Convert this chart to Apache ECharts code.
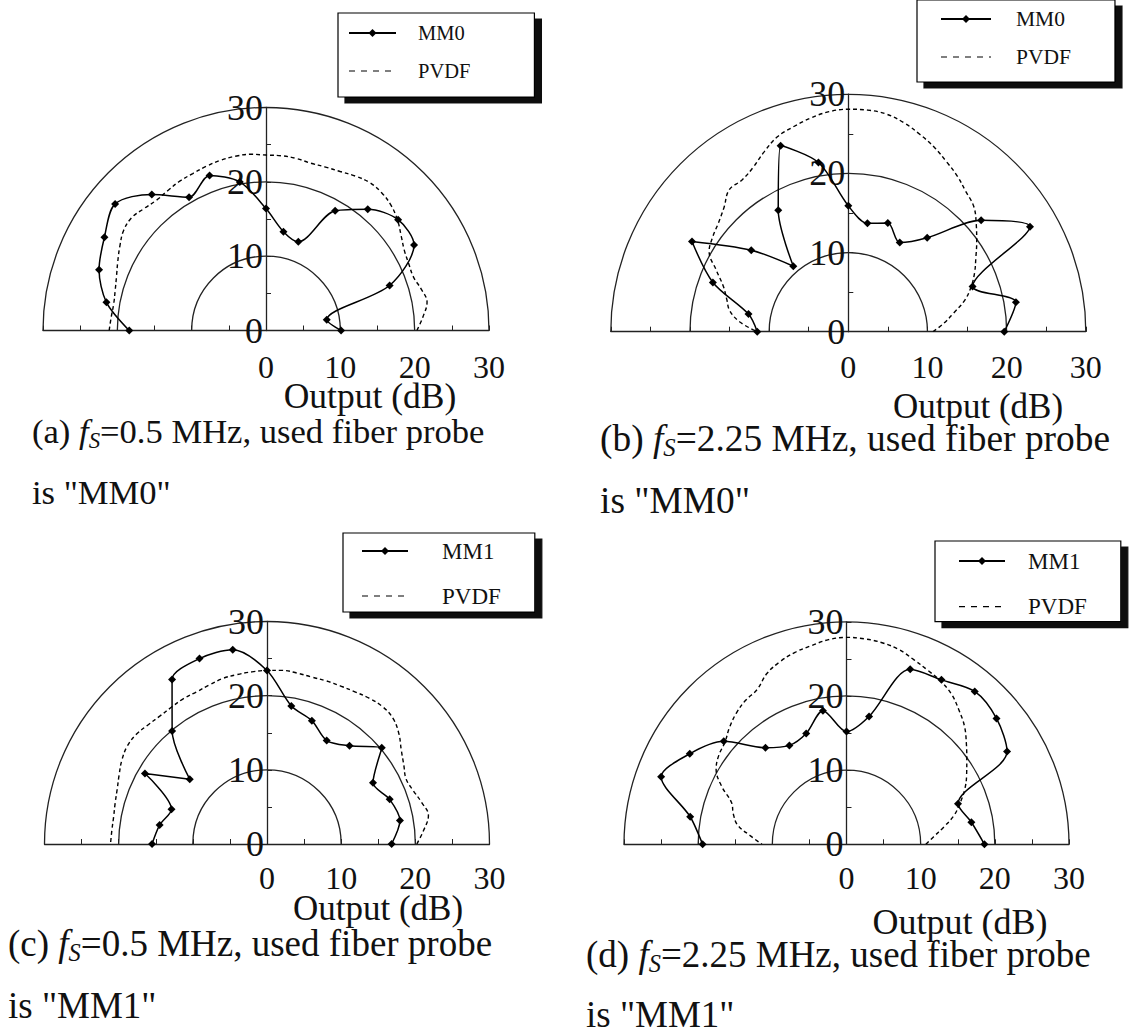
<!DOCTYPE html>
<html>
<head>
<meta charset="utf-8">
<script src="https://cdn.jsdelivr.net/npm/echarts@6/dist/echarts.min.js"></script>
<style>
html,body{margin:0;padding:0;background:#fff;}
#chart{width:1133px;height:1035px;}
</style>
</head>
<body>
<div id="chart"></div>
<script>
// ---------------- data ----------------
const markerAngles = [0,10,20,30,40,50,60,70,80,90,100,110,120,130,140,150,160,170,180];
const pvdfAngles = [0,5,10,15,20,25,30,35,40,45,50,55,60,65,70,75,80,85,90,95,100,105,110,115,120,125,130,135,140,145,150,155,160,165,170,175,180];

// (a) fs = 0.5 MHz, probe MM0
const mm0_a  = [10.1, 8.3, 17.7, 23.0, 23.2, 21.3, 18.6, 12.7, 13.5, 16.4, 20.3, 22.2, 20.7, 23.9, 26.5, 25.1, 23.9, 21.8, 18.4];
const pvdf_a = [20.3, 21.2, 22.0, 21.6, 21.1, 21.2, 21.5, 22.2, 23.1, 23.8, 24.2, 24.3, 24.0, 23.6, 23.4, 23.3, 23.5, 23.6, 23.6, 23.8, 23.8, 23.7, 23.5, 23.3, 23.2, 23.0, 22.9, 23.2, 23.6, 23.4, 22.7, 22.0, 21.4, 21.0, 20.8, 20.9, 21.1];
// (b) fs = 2.25 MHz, probe MM0
const mm0_b  = [19.7, 21.5, 16.7, 26.5, 21.9, 15.5, 13.0, 14.6, 13.9, 15.9, 21.7, 25.0, 17.7, 10.8, 16.0, 22.8, 18.2, 12.8, 11.5];
const pvdf_b = [10.7, 12.1, 13.5, 15.2, 16.5, 17.6, 18.6, 19.8, 21.1, 22.4, 23.1, 24.0, 24.8, 25.7, 26.5, 27.3, 27.9, 28.1, 28.1, 27.9, 27.4, 26.8, 26.2, 25.1, 24.0, 23.4, 23.4, 22.2, 21.4, 20.9, 20.3, 18.4, 16.8, 15.9, 15.2, 13.7, 11.5];
// (c) fs = 0.5 MHz, probe MM1
const mm1_c  = [16.8, 18.2, 17.6, 16.5, 20.2, 17.3, 16.1, 17.7, 18.9, 23.4, 26.6, 26.6, 25.6, 19.9, 13.6, 19.0, 13.7, 14.7, 15.5];
const pvdf_c = [20.2, 21.2, 22.1, 21.6, 21.0, 20.7, 21.3, 22.1, 23.2, 24.0, 24.2, 24.0, 23.7, 23.5, 23.4, 23.3, 23.4, 23.5, 23.4, 23.3, 23.2, 23.1, 22.8, 22.6, 22.6, 22.5, 22.5, 22.7, 23.0, 23.0, 22.6, 22.0, 21.5, 21.2, 21.0, 21.0, 21.1];
// (d) fs = 2.25 MHz, probe MM1
const mm1_d  = [18.6, 17.1, 16.0, 25.0, 26.4, 26.9, 25.6, 25.1, 17.5, 15.2, 18.3, 15.9, 15.4, 17.0, 21.6, 24.4, 26.6, 21.4, 19.4];
const pvdf_d = [10.7, 11.8, 13.3, 15.0, 16.3, 17.6, 18.7, 19.8, 21.1, 22.5, 23.6, 24.7, 25.4, 25.9, 26.5, 27.2, 27.6, 27.8, 27.9, 27.7, 27.2, 26.8, 26.2, 25.4, 24.1, 23.7, 23.1, 22.3, 21.4, 21.0, 20.3, 18.6, 16.5, 15.8, 14.9, 13.0, 11.4];

const xTickLabels = ['0','10','20','30'];
const radialTickLabels = ['0','10','20','30'];
const axisTitle = 'Output (dB)';
const panelLetters = ['(a)','(b)','(c)','(d)'];
const panelFreqs = ['0.5','2.25','0.5','2.25'];
const probeNames = ['MM0','MM0','MM1','MM1'];
const refName = 'PVDF';
const probeSeries = [mm0_a, mm0_b, mm1_c, mm1_d];
const refSeries = [pvdf_a, pvdf_b, pvdf_c, pvdf_d];

// ---------------- layout / style ----------------
const FONT = "'Liberation Serif','Times New Roman',Times,serif";
const INK = '#111';
const LINE = '#222';

const layout = [
  {cx:266,   cy:330.5, R:223,   tm:23, out:[370,396,35.5], cap:[32,431,492,34.6],
   leg:{left:338, top:13,  pad:[9,64,15,10],  gap:16,   font:20.5, lh:22, tp:17, iw:47}},
  {cx:848.3, cy:331.7, R:237.5, tm:22, out:[978,406,35],   cap:[600,438,500,37.4],
   leg:{left:917, top:0,   pad:[8,44,14,23],  gap:16,   font:21.5, lh:22, tp:20, iw:50}},
  {cx:267,   cy:844,   R:222.5, tm:21, out:[378,908,35],   cap:[8,943,1005,37],
   leg:{left:343, top:533, pad:[6,34,4,18],   gap:21,   font:23, lh:24, tp:29, iw:46}},
  {cx:846.5, cy:844.3, R:222.5, tm:21, out:[960,922,36],   cap:[586,954,1014,37],
   leg:{left:935, top:541, pad:[8,34,3,23],   gap:21.6, font:23, lh:24, tp:18, iw:46}}
];

const option = {
  animation: false,
  backgroundColor: '#fff',
  polar: [], angleAxis: [], radiusAxis: [],
  grid: [], xAxis: [], yAxis: [],
  legend: [], series: [], graphic: []
};

const labelFilter = list => v => (list.indexOf(String(v)) >= 0 ? String(v) : '');

layout.forEach((p, i) => {
  option.polar.push({center: [p.cx, p.cy], radius: p.R});
  option.angleAxis.push({
    polarIndex: i, type: 'value', min: 0, max: 180,
    startAngle: 0, endAngle: 180, clockwise: false,
    axisLine: {show: false}, axisTick: {show: false},
    axisLabel: {show: false}, splitLine: {show: false}
  });
  option.radiusAxis.push({
    polarIndex: i, type: 'value', min: 0, max: 30, interval: 10,
    axisLine: {show: false}, axisTick: {show: false}, axisLabel: {show: false},
    splitLine: {show: true, lineStyle: {color: LINE, width: 1.3}}
  });
  option.grid.push({
    left: p.cx - p.R, top: p.cy - p.R, width: 2 * p.R, height: p.R,
    containLabel: false, outerBoundsMode: 'none', show: false
  });
  option.xAxis.push({
    gridIndex: i, type: 'value', min: -30, max: 30, interval: 5,
    axisLine: {show: true, onZero: false, lineStyle: {color: LINE, width: 1.3}},
    axisTick: {show: true, inside: true, length: 5, lineStyle: {color: LINE, width: 1}},
    axisLabel: {show: true, formatter: labelFilter(xTickLabels), fontFamily: FONT,
                fontSize: 32, lineHeight: 26, color: INK, margin: p.tm},
    splitLine: {show: false}
  });
  option.yAxis.push({
    gridIndex: i, type: 'value', min: 0, max: 30, interval: 5,
    position: 'left', offset: -p.R,
    axisLine: {show: true, onZero: false, lineStyle: {color: LINE, width: 1.3}},
    axisTick: {show: true, inside: true, length: 5, lineStyle: {color: LINE, width: 1}},
    axisLabel: {show: true, formatter: labelFilter(radialTickLabels), fontFamily: FONT,
                fontSize: 36, lineHeight: 30, color: INK, margin: 3},
    splitLine: {show: false}
  });

  const probe = probeSeries[i], ref = refSeries[i];
  option.series.push({
    type: 'line', name: probeNames[i], coordinateSystem: 'polar', polarIndex: i,
    data: markerAngles.map((a, k) => [probe[k], a]),
    smooth: 0.3, symbol: 'diamond', symbolSize: 8, showSymbol: true,
    lineStyle: {color: '#000', width: 1.5}, itemStyle: {color: '#000'}, z: 2
  });
  option.series.push({
    type: 'line', name: refName, coordinateSystem: 'polar', polarIndex: i,
    data: pvdfAngles.map((a, k) => [ref[k], a]),
    smooth: 0.4, symbol: 'none', showSymbol: false,
    lineStyle: {color: '#000', width: 1.4, type: [4, 3]}, itemStyle: {color: '#000'}, z: 2
  });

  const L = p.leg;
  option.legend.push({
    show: true, orient: 'vertical', left: L.left, top: L.top, padding: L.pad,
    itemGap: L.gap, itemWidth: L.iw, itemHeight: 10, selectedMode: false,
    backgroundColor: '#fff', borderColor: '#000', borderWidth: 1.2, borderRadius: 0,
    shadowColor: '#111', shadowBlur: 0, shadowOffsetX: 7, shadowOffsetY: 6,
    textStyle: {fontFamily: FONT, fontSize: L.font, color: INK, lineHeight: L.lh, padding: [0, 0, 0, L.tp]},
    data: [
      {name: probeNames[i]},
      {name: refName, itemStyle: {color: 'rgba(0,0,0,0)', borderWidth: 0}, lineStyle: {type: [6, 6], width: 1.2}}
    ]
  });

  option.graphic.push({
    type: 'text', x: p.out[0], y: p.out[1],
    style: {text: axisTitle, fontFamily: FONT, fontSize: p.out[2], lineHeight: 26, fill: INK,
            align: 'center', verticalAlign: 'middle', textAlign: 'center', textVerticalAlign: 'middle'}
  });
  const cf = p.cap[3];
  option.graphic.push({
    type: 'text', x: p.cap[0], y: p.cap[1],
    style: {
      text: panelLetters[i] + ' {i|f}{s|S}=' + panelFreqs[i] + ' MHz, used fiber probe',
      fontFamily: FONT, fontSize: cf, lineHeight: 28, fill: INK,
      align: 'left', verticalAlign: 'middle', textAlign: 'left', textVerticalAlign: 'middle',
      rich: {
        i: {fontFamily: FONT, fontSize: cf, lineHeight: 28, fontStyle: 'italic', fill: INK, color: INK},
        s: {fontFamily: FONT, fontSize: cf * 0.66, lineHeight: 12, fontStyle: 'italic', fill: INK, color: INK, padding: [18, 0, 0, 0]}
      }
    }
  });
  option.graphic.push({
    type: 'text', x: p.cap[0], y: p.cap[2],
    style: {text: 'is "' + probeNames[i] + '"', fontFamily: FONT, fontSize: cf, lineHeight: 28, fill: INK,
            align: 'left', verticalAlign: 'middle', textAlign: 'left', textVerticalAlign: 'middle'}
  });
});

const chart = echarts.init(document.getElementById('chart'), null, {renderer: 'svg'});
chart.setOption(option);
</script>
</body>
</html>
